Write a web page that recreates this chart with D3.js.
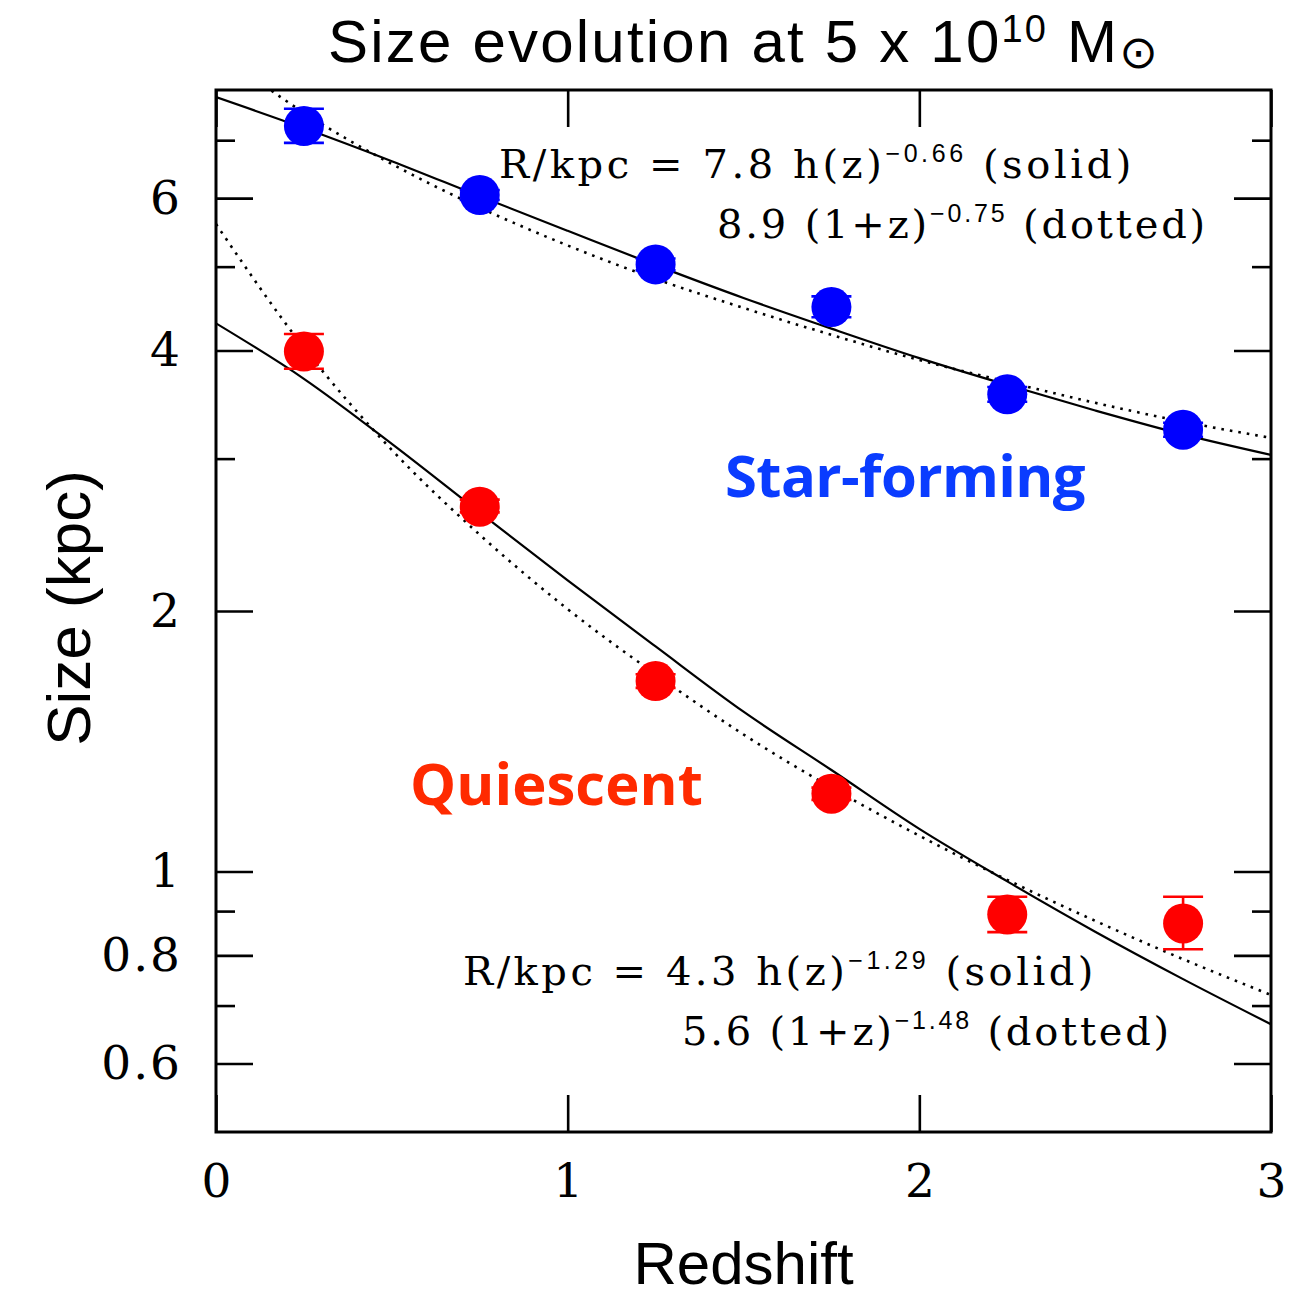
<!DOCTYPE html>
<html>
<head>
<meta charset="utf-8">
<script src="https://cdn.jsdelivr.net/npm/d3@7"></script>
<style>
  body { margin: 0; background: #fff; }
  text { white-space: pre; }
</style>
</head>
<body>
<svg id="chart" width="1292" height="1296"></svg>
<script>
// binned measurements (redshift bin centres, sizes in kpc, error bar ends)
var zBins = [0.25, 0.75, 1.25, 1.75, 2.25, 2.75];
var sfSize = [7.27, 6.05, 5.03, 4.49, 3.56, 3.24];
var sfLow  = [6.95, 5.97, 4.95, 4.37, 3.49, 3.18];
var sfHigh = [7.61, 6.13, 5.11, 4.62, 3.63, 3.30];
var qSize  = [3.99, 2.64, 1.66, 1.23, 0.892, 0.871];
var qLow   = [3.81, 2.60, 1.63, 1.21, 0.851, 0.813];
var qHigh  = [4.18, 2.69, 1.69, 1.25, 0.935, 0.935];

// fit curves
var zCurve   = [0, 0.25, 0.5, 0.75, 1, 1.25, 1.5, 1.75, 2, 2.25, 2.5, 2.75, 3];
var sfSolid  = [7.85, 7.23, 6.62, 6.03, 5.50, 5.02, 4.60, 4.24, 3.92, 3.65, 3.41, 3.20, 3.03];
var sfDotted = [8.90, 7.53, 6.57, 5.85, 5.29, 4.84, 4.48, 4.17, 3.90, 3.68, 3.48, 3.31, 3.17];
var qSolid   = [4.30, 3.71, 3.12, 2.60, 2.17, 1.82, 1.53, 1.31, 1.12, 0.974, 0.852, 0.751, 0.666];
var qDotted  = [5.60, 4.03, 3.07, 2.45, 2.01, 1.69, 1.44, 1.25, 1.10, 0.978, 0.877, 0.792, 0.720];

// axis ticks
var xMajor = [0, 1, 2, 3];
var xTickLabels = ["0", "1", "2", "3"];
var yMajor = [0.6, 0.8, 1, 2, 4, 6];
var yTickLabels = ["0.6", "0.8", "1", "2", "4", "6"];
var yMinor = [0.7, 0.9, 3, 5, 7];

var blue = "#0000ff", red = "#ff0000";

var svg = d3.select("#chart");

var x = d3.scaleLinear().domain([0, 3]).range([216, 1271]);
var y = d3.scaleLog().base(2).domain([0.5, 8]).range([1132, 90]);

svg.append("defs").append("clipPath").attr("id", "plotclip")
  .append("rect")
  .attr("x", x(0)).attr("y", y(8))
  .attr("width", x(3) - x(0)).attr("height", y(0.5) - y(8));

// stretch a text to a given width with letter spacing
function fitWidth(t, target) {
  var node = t.node();
  var n = node.textContent.length;
  var len = node.getComputedTextLength();
  t.style("letter-spacing", ((target - len) / n) + "px");
}

// ---- axes (ticks point inward, frame drawn separately)
function styleAxis(g) {
  g.select(".domain").remove();
  g.selectAll(".tick line").attr("stroke", "#000").attr("stroke-width", 2.6);
}

svg.append("g")
  .attr("transform", "translate(" + x(0) + ",0)")
  .call(d3.axisLeft(y).tickValues(yMajor).tickSize(-37).tickPadding(34)
    .tickFormat(function(d, i) { return yTickLabels[i]; }))
  .call(styleAxis)
  .call(function(g) {
    g.selectAll("text").attr("fill", "#000")
      .style("font-family", "'DejaVu Serif', serif").style("font-size", "47px")
      .style("letter-spacing", "2px");
  });

svg.append("g")
  .attr("transform", "translate(" + x(0) + ",0)")
  .call(d3.axisLeft(y).tickValues(yMinor).tickSize(-19).tickFormat(""))
  .call(styleAxis);

svg.append("g")
  .attr("transform", "translate(" + x(3) + ",0)")
  .call(d3.axisRight(y).tickValues(yMajor).tickSize(-37).tickFormat(""))
  .call(styleAxis);

svg.append("g")
  .attr("transform", "translate(" + x(3) + ",0)")
  .call(d3.axisRight(y).tickValues(yMinor).tickSize(-19).tickFormat(""))
  .call(styleAxis);

svg.append("g")
  .attr("transform", "translate(0," + y(0.5) + ")")
  .call(d3.axisBottom(x).tickValues(xMajor).tickSize(-37).tickPadding(32)
    .tickFormat(function(d, i) { return xTickLabels[i]; }))
  .call(styleAxis)
  .call(function(g) {
    g.selectAll("text").attr("fill", "#000")
      .style("font-family", "'DejaVu Serif', serif").style("font-size", "47px");
  });

svg.append("g")
  .attr("transform", "translate(0," + y(8) + ")")
  .call(d3.axisTop(x).tickValues(xMajor).tickSize(-37).tickFormat(""))
  .call(styleAxis);

// frame
svg.append("rect")
  .attr("x", x(0)).attr("y", y(8))
  .attr("width", x(3) - x(0)).attr("height", y(0.5) - y(8))
  .attr("fill", "none").attr("stroke", "#000").attr("stroke-width", 3);

// ---- fit curves
var line = d3.line()
  .x(function(d) { return x(d[0]); })
  .y(function(d) { return y(d[1]); })
  .curve(d3.curveMonotoneX);

function pts(vals) { return zCurve.map(function(z, i) { return [z, vals[i]]; }); }

var curves = svg.append("g").attr("clip-path", "url(#plotclip)");
[sfSolid, qSolid].forEach(function(v) {
  curves.append("path").attr("d", line(pts(v)))
    .attr("fill", "none").attr("stroke", "#000").attr("stroke-width", 2.2);
});
[sfDotted, qDotted].forEach(function(v) {
  curves.append("path").attr("d", line(pts(v)))
    .attr("fill", "none").attr("stroke", "#000").attr("stroke-width", 2.6)
    .attr("stroke-dasharray", "2.6 6");
});

// ---- points with error bars
function drawSeries(sizes, lo, hi, col) {
  var g = svg.append("g");
  zBins.forEach(function(z, i) {
    var cx = x(z);
    g.append("line").attr("x1", cx).attr("x2", cx)
      .attr("y1", y(lo[i])).attr("y2", y(hi[i]))
      .attr("stroke", col).attr("stroke-width", 2.6);
    [lo[i], hi[i]].forEach(function(v) {
      g.append("line").attr("x1", cx - 20).attr("x2", cx + 20)
        .attr("y1", y(v)).attr("y2", y(v))
        .attr("stroke", col).attr("stroke-width", 2.6);
    });
    g.append("circle").attr("cx", cx).attr("cy", y(sizes[i])).attr("r", 20)
      .attr("fill", col);
  });
}
drawSeries(sfSize, sfLow, sfHigh, blue);
drawSeries(qSize, qLow, qHigh, red);

// ---- annotations
var serif = "'DejaVu Serif', serif";
var sans = "'Liberation Sans', Arial, sans-serif";

function fitText(xp, yp, width, body, sup, post) {
  var t = svg.append("text").attr("x", xp).attr("y", yp)
    .style("font-family", serif).style("font-size", "40px").attr("fill", "#000");
  t.append("tspan").text(body);
  t.append("tspan").attr("dy", -16).style("font-family", sans).style("font-size", "25px").text(sup);
  t.append("tspan").attr("dy", 16).text(post);
  fitWidth(t, width);
}
fitText(499, 178, 636, "R/kpc = 7.8 h(z)", "\u22120.66", " (solid)");
fitText(717, 238, 491, "8.9 (1+z)", "\u22120.75", " (dotted)");
fitText(463, 985, 634, "R/kpc = 4.3 h(z)", "\u22121.29", " (solid)");
fitText(682, 1045, 490, "5.6 (1+z)", "\u22121.48", " (dotted)");

var sf = svg.append("text").attr("x", 725).attr("y", 497)
  .style("font-family", "'Open Sans', sans-serif").style("font-weight", "bold")
  .style("font-size", "58px").attr("fill", "#0a3cff").text("Star-forming");
fitWidth(sf, 360);

var qt = svg.append("text").attr("x", 410).attr("y", 805)
  .style("font-family", "'Open Sans', sans-serif").style("font-weight", "bold")
  .style("font-size", "58px").attr("fill", "#ff2a00").text("Quiescent");
fitWidth(qt, 293);

// ---- titles
var tfont = "'Liberation Sans', Arial, sans-serif";
var title = svg.append("text").attr("x", 328).attr("y", 62)
  .style("font-family", tfont).style("font-size", "60px").attr("fill", "#000");
title.append("tspan").text("Size evolution at 5 x 10");
title.append("tspan").attr("dy", -20).style("font-size", "38px").text("10");
title.append("tspan").attr("dy", 20).text(" M");
title.append("tspan").attr("dy", 6).style("font-family", "'DejaVu Sans', sans-serif")
  .style("font-size", "46px").text("\u2299");
fitWidth(title, 832);

svg.append("text").attr("x", x(1.5)).attr("y", 1284).attr("text-anchor", "middle")
  .style("font-family", tfont).style("font-size", "60px").attr("fill", "#000")
  .text("Redshift");

svg.append("text").attr("transform", "translate(90," + 608 + ") rotate(-90)")
  .attr("text-anchor", "middle")
  .style("font-family", tfont).style("font-size", "62px").attr("fill", "#000")
  .text("Size (kpc)");
</script>
</body>
</html>
